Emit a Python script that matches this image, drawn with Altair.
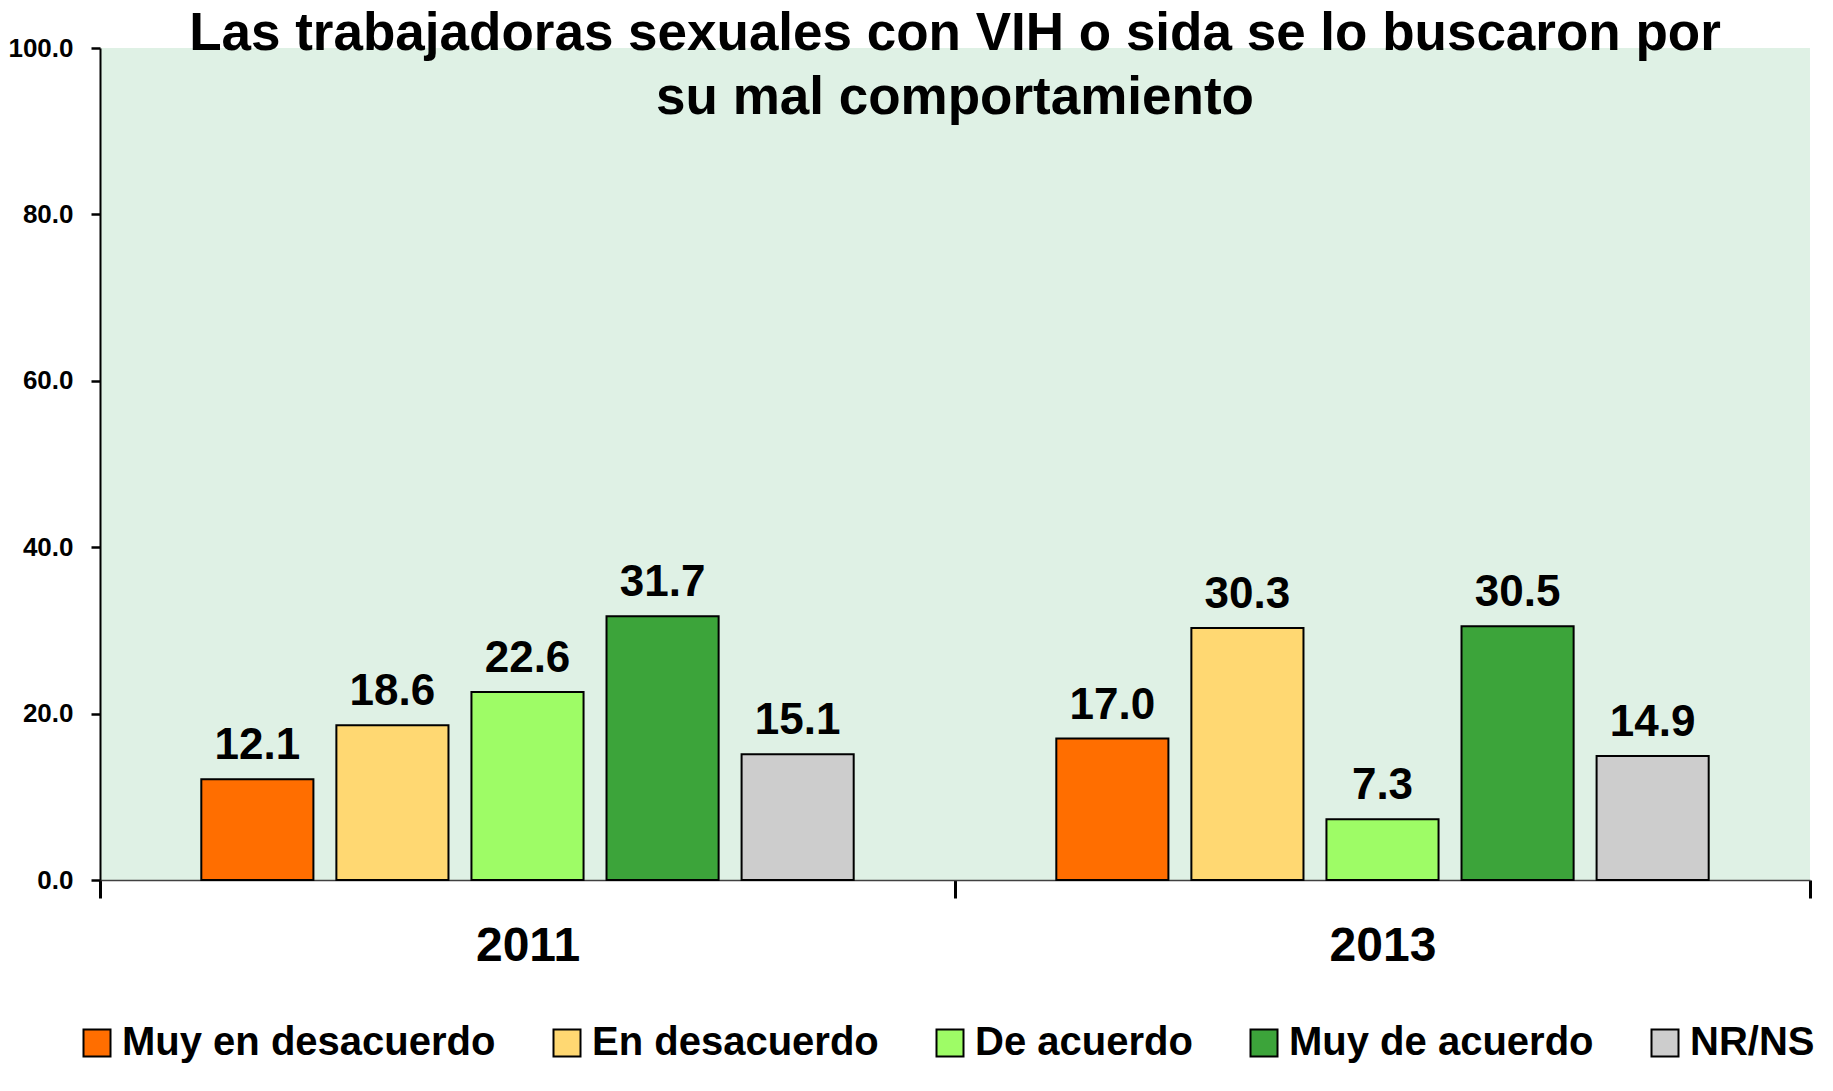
import altair as alt
import pandas as pd

years = ["2011", "2013"]
categories = ["Muy en desacuerdo", "En desacuerdo", "De acuerdo", "Muy de acuerdo", "NR/NS"]
values_2011 = [12.1, 18.6, 22.6, 31.7, 15.1]
values_2013 = [17.0, 30.3, 7.3, 30.5, 14.9]
colors = ["#FF6E00", "#FFD872", "#9EFC66", "#3CA43A", "#CDCDCD"]
y_ticks = [0, 20, 40, 60, 80, 100]
title_lines = ["Las trabajadoras sexuales con VIH o sida se lo buscaron por",
               "su mal comportamiento"]

rows = []
for yr, vals in zip(years, [values_2011, values_2013]):
    for c, v in zip(categories, vals):
        rows.append({"year": yr, "cat": c, "value": v})
df = pd.DataFrame(rows)

SANS = "Liberation Sans, Arial, sans-serif"

x_enc = alt.X("year:N", sort=years,
              scale=alt.Scale(paddingInner=0, paddingOuter=0),
              axis=alt.Axis(title=None, tickBand="extent", tickSize=18, tickWidth=3,
                            tickColor="black", domainColor="#404040", domainWidth=1.5,
                            labelFont=SANS, labelFontSize=48, labelFontWeight="bold",
                            labelColor="black", labelPadding=24, labelAngle=0))
xo_enc = alt.XOffset("cat:N", sort=categories,
                     scale=alt.Scale(paddingInner=0.17, paddingOuter=0.75))
y_enc = alt.Y("value:Q", scale=alt.Scale(domain=[0, 100], nice=False),
              axis=alt.Axis(title=None, values=y_ticks, format=".1f", grid=False,
                            domainColor="black", domainWidth=2, tickColor="black",
                            tickSize=9, tickWidth=2.5, labelFont=SANS, labelFontSize=26,
                            labelFontWeight="bold", labelColor="black", labelPadding=18))

bars = alt.Chart(df).mark_bar(stroke="black", strokeWidth=2).encode(
    x=x_enc, xOffset=xo_enc, y=y_enc,
    color=alt.Color("cat:N", sort=categories,
                    scale=alt.Scale(domain=categories, range=colors),
                    legend=alt.Legend(title=None, orient="none", direction="horizontal",
                                      legendX=-23, legendY=975, padding=0,
                                      symbolType="square", symbolSize=729,
                                      symbolStrokeColor="black", symbolStrokeWidth=2,
                                      symbolOpacity=1,
                                      labelFont=SANS, labelFontSize=40, labelFontWeight="bold",
                                      labelColor="black", labelOffset=5, columnPadding=51,
                                      labelLimit=600)),
)

labels = alt.Chart(df).mark_text(dy=-20, baseline="alphabetic", fontSize=44,
                                 fontWeight="bold", font=SANS, color="black").encode(
    x=alt.X("year:N", sort=years), xOffset=alt.XOffset("cat:N", sort=categories),
    y="value:Q", text=alt.Text("value:Q", format=".1f"),
)

chart = alt.layer(bars, labels).properties(
    width=1710, height=832,
    padding={"left": 92, "top": 40, "right": 15, "bottom": 190},
    autosize=alt.AutoSizeParams(type="none"),
    title=alt.Title(title_lines, font=SANS, fontSize=53, fontWeight="bold", color="black",
                    anchor="middle", baseline="alphabetic", lineHeight=64, offset=-132),
).configure_view(fill="#DFF1E5", stroke=None)

chart.save("out.html", embed_options={"renderer": "svg", "actions": False})
